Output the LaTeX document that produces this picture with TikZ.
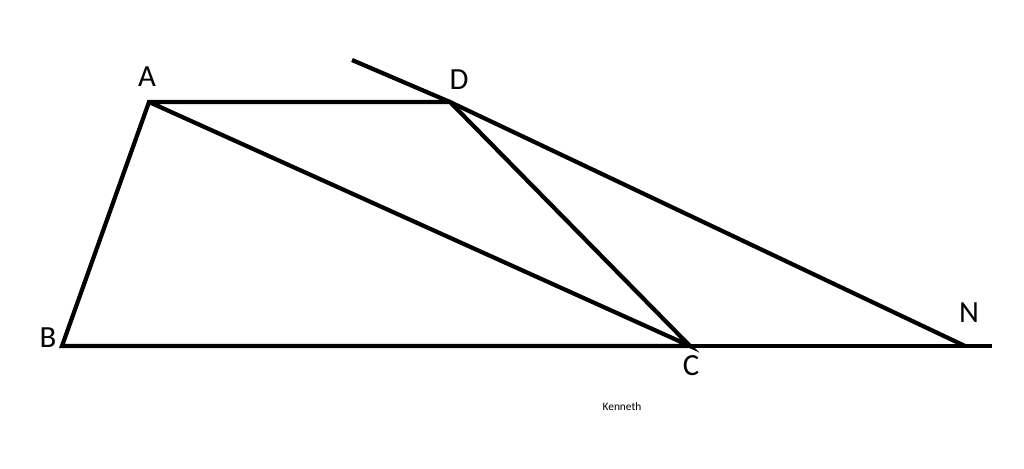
\documentclass[tikz,border=0pt]{standalone}
\usepackage{fontspec}
\setmainfont{Carlito}

\begin{document}
\begin{tikzpicture}[x=0.02cm,y=-0.02cm,
    seg/.style={line width=2.4pt,line join=miter},
    lbl/.style={font=\fontsize{17.5}{17.5}\selectfont}]
            \useasboundingbox (0,0) rectangle (1024,469);
            \coordinate (A) at (149,102);
            \coordinate (D) at (450,102);
            \coordinate (B) at (62,346);
            \coordinate (C) at (690,346);
            \coordinate (N) at (965,346);
            \coordinate (E) at (992,346);
            \coordinate (T) at (352,60);
            \draw[seg] (C) -- (B) -- (A) -- (D) -- (C) -- (A);
            \draw[seg] (B) -- (E);
            \draw[seg] (T) -- (D) -- (N);
            \node[lbl] (la) at (147,77) {A};
            \node[lbl] (ld) at (459,80) {D};
            \node[lbl] (lb) at (48,338) {B};
            \node[lbl] (lc) at (691,366) {C};
            \node[lbl] (ln) at (969,313) {N};
            \node[font=\fontsize{6.5}{6.5}\selectfont] (sig) at (622,407) {Kenneth};
      \end{tikzpicture}
\end{document}
